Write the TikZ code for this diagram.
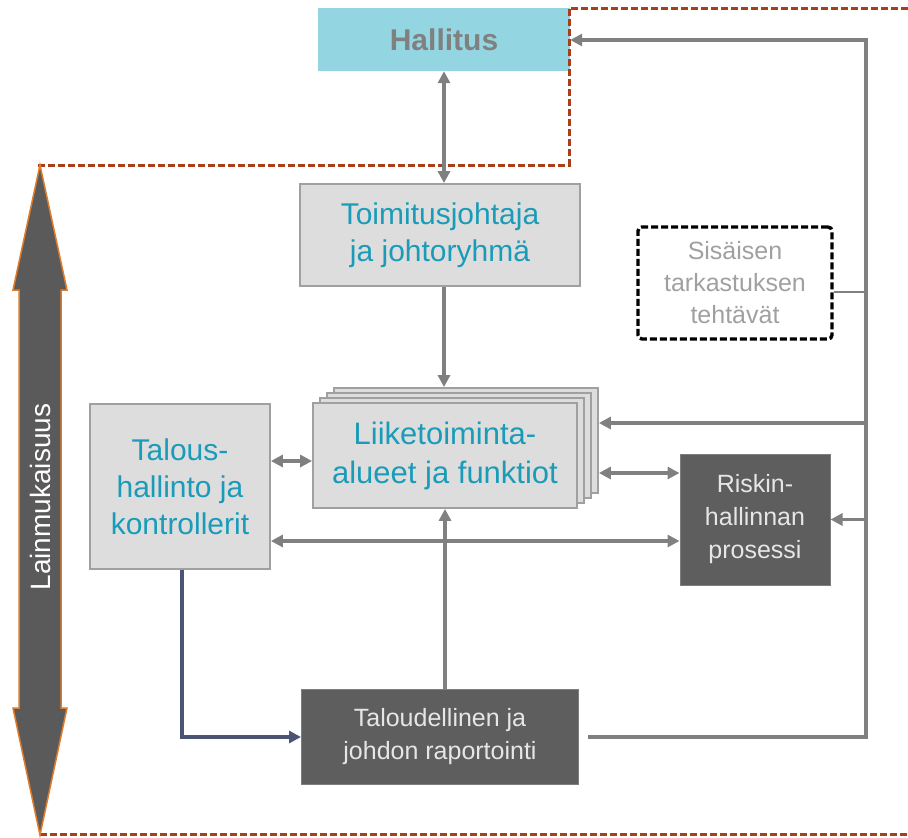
\documentclass[tikz,border=0pt]{standalone}
\usepackage{fontspec}
\setmainfont{Liberation Sans}
\usetikzlibrary{arrows.meta,calc}
\definecolor{hallfill}{HTML}{93D6E2}
\definecolor{teal}{HTML}{1A9CB8}
\definecolor{boxfill}{HTML}{DDDDDD}
\definecolor{boxline}{HTML}{A0A0A0}
\definecolor{darkbox}{HTML}{5E5E5E}
\definecolor{arrgray}{HTML}{808080}
\definecolor{slate}{HTML}{4B5573}
\definecolor{redline}{HTML}{AA3E18}
\definecolor{orangeline}{HTML}{E07B2A}
\definecolor{bigarrow}{HTML}{5A5A5A}
\definecolor{sistext}{HTML}{A0A0A0}
\definecolor{lighttext}{HTML}{E6E6E6}
\begin{document}
\begin{tikzpicture}[x=1pt,y=-1pt,
  lightbox/.style={draw=boxline,fill=boxfill,line width=1.8pt,align=center,text=teal,
    font=\fontsize{30}{37}\selectfont,inner sep=0pt},
  darkbox/.style={draw=darkbox!80!white,fill=darkbox,line width=1pt,align=center,text=lighttext,
    font=\fontsize{25}{33}\selectfont,inner sep=0pt},
  conn/.style={draw=arrgray,line width=3.4pt},
  tipr/.style={-{Triangle[length=12pt,width=12pt]}},
  tipb/.style={{Triangle[length=12pt,width=12pt]}-{Triangle[length=12pt,width=12pt]}},
  redd/.style={draw=redline,line width=3pt,dash pattern=on 7pt off 3pt},
]
\useasboundingbox (0,0) rectangle (908,838);

% Hallitus
\node[fill=hallfill,minimum width=252pt,minimum height=63pt,inner sep=0pt,
  text=arrgray,font=\fontsize{30}{36}\selectfont\bfseries] (hall) at (444,39.5) {Hallitus};

% red dashed boundary
\draw[redd] (38,165) -- (569,165) -- (569,8) -- (908,8);
\draw[redd] (40,834) -- (908,834);

% big double arrow
\draw[fill=bigarrow,draw=orangeline,line width=1.5pt,line join=miter]
  (40,165) -- (67,290) -- (61,290) -- (61,708) -- (67,708) -- (40,835)
  -- (13,708) -- (19,708) -- (19,290) -- (13,290) -- cycle;
\node[rotate=90,text=white,font=\fontsize{28}{34}\selectfont] (lain) at (40,497) {Lainmukaisuus};

% Toimitusjohtaja
\node[lightbox,minimum width=280pt,minimum height=102pt] (toim) at (440,235)
  {Toimitusjohtaja\\ja johtoryhmä};

% Liiketoiminta stack
\node[lightbox,minimum width=264pt,minimum height=105pt] (liike3) at (466,440.5) {};
\node[lightbox,minimum width=264pt,minimum height=105pt] (liike2) at (459,445.5) {};
\node[lightbox,minimum width=264pt,minimum height=105pt] (liike1) at (452,450.5) {};
\node[lightbox,minimum width=264pt,minimum height=105pt,font=\fontsize{31}{39}\selectfont] (liike) at (445,455.5)
  {Liiketoiminta-\\alueet ja funktiot};

% Talous
\node[lightbox,minimum width=180pt,minimum height=165pt] (tal) at (180,486.5)
  {Talous-\\hallinto ja\\kontrollerit};

% Riskin
\node[darkbox,minimum width=150pt,minimum height=131pt] (risk) at (755,519.5)
  {Riskin-\\hallinnan\\prosessi};

% Sisaisen
\node[draw=black,line width=3.4pt,dash pattern=on 7pt off 3pt,rounded corners=4pt,
  minimum width=194pt,minimum height=112pt,align=center,text=sistext,
  font=\fontsize{25}{32}\selectfont,inner sep=0pt] (sis) at (735,283)
  {Sisäisen\\tarkastuksen\\tehtävät};

% Taloudellinen
\node[darkbox,minimum width=277pt,minimum height=95pt] (taloud) at (440,736.5)
  {Taloudellinen ja\\johdon raportointi};

% helper coordinates
\coordinate (rtop) at (866,40);
\coordinate (rbot) at (866,737);
\coordinate (rstart) at (588,737);
\coordinate (yliike) at (866,423);
\coordinate (ytal1) at (0,461);
\coordinate (ytal2) at (0,541);
\coordinate (yrisk) at (0,473);

% connectors
\draw[conn,tipb] (hall.south) -- (hall.south |- toim.north);
\draw[conn,tipr] (hall.south |- toim.south) -- (hall.south |- liike3.north);
\draw[conn,tipb] (tal.east |- ytal1) -- (liike.west |- ytal1);
\draw[conn,tipb] (tal.east |- ytal2) -- (risk.west |- ytal2);
\draw[conn,tipb] (liike3.east |- yrisk) -- (risk.west |- yrisk);
\draw[conn,tipr,line join=miter] (rstart) -- (rbot) -- (rtop) -- (hall.east |- rtop);
\draw[conn,tipr] (yliike) -- (liike3.east |- yliike);
\draw[conn,tipr] (rbot |- risk.east) -- (risk.east);
\draw[draw=arrgray,line width=2.4pt] ([yshift=-9pt]sis.east) -- ([yshift=-9pt]sis.east -| rbot);
\draw[conn,tipr] (liike.south |- taloud.north) -- (liike.south);
\draw[draw=slate,line width=3.4pt,-{Triangle[length=12pt,width=12pt]}] ([xshift=2pt]tal.south) -- ([xshift=2pt]tal.south |- rbot) -- (taloud.west |- rbot);
\end{tikzpicture}
\end{document}
